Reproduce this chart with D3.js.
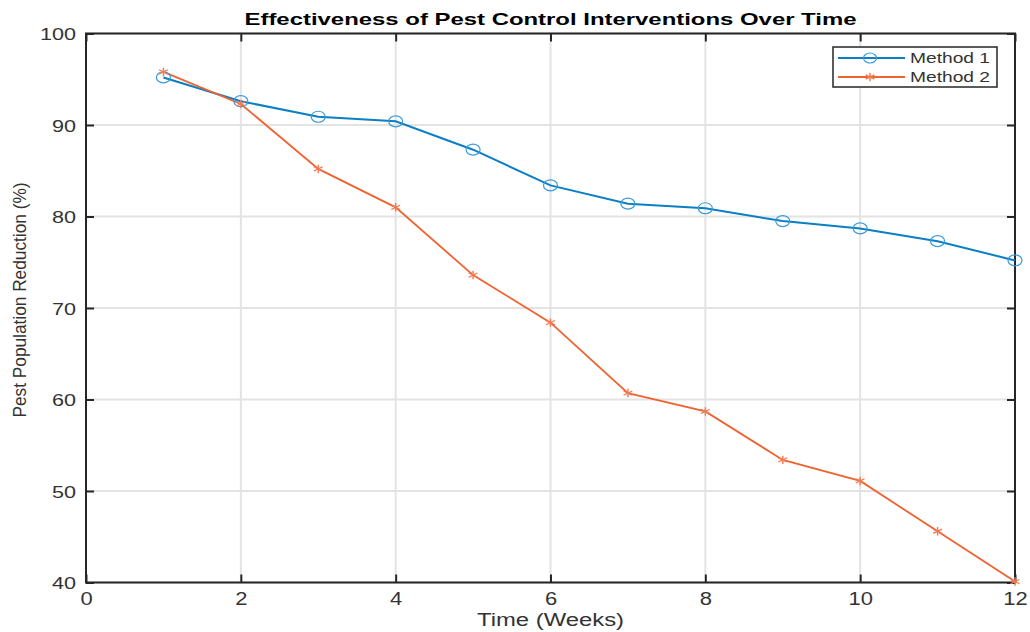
<!DOCTYPE html>
<html>
<head>
<meta charset="utf-8">
<script src="https://cdn.jsdelivr.net/npm/d3@7"></script>
<style>
  body { margin: 0; background: #fff; }
  text { font-family: "Liberation Sans", Arial, sans-serif; fill: #333; }
</style>
</head>
<body>
<svg class="svgChart"></svg>
<script>
// chart data
const weeks = [1, 2, 3, 4, 5, 6, 7, 8, 9, 10, 11, 12];
const method1 = [95.2, 92.6, 90.9, 90.4, 87.3, 83.4, 81.4, 80.9, 79.5, 78.7, 77.3, 75.2];
const method2 = [95.8, 92.3, 85.2, 81.0, 73.6, 68.4, 60.7, 58.7, 53.4, 51.1, 45.6, 40.1];
const seriesNames = ['Method 1', 'Method 2'];
const xTicks = [0, 2, 4, 6, 8, 10, 12];
const yTicks = [40, 50, 60, 70, 80, 90, 100];

const W = 1030, H = 632;
const margin = { top: 33.5, right: 15, bottom: 49.5, left: 86 };
const width = W - margin.left - margin.right;
const height = H - margin.top - margin.bottom;

const colors = ['#0a7fc4', '#f0622f'];
const stretch = 1.22; // the picture is a bit wider than tall

const svg = d3.select('.svgChart')
  .attr('width', W)
  .attr('height', H);

const g = svg.append('g')
  .attr('transform', `translate(${margin.left},${margin.top})`);

const xScale = d3.scaleLinear().domain([0, 12]).range([0, width]);
const yScale = d3.scaleLinear().domain([40, 100]).range([height, 0]);

// widen a text node horizontally
const widen = function(f) {
  const w = this.getComputedTextLength();
  d3.select(this)
    .attr('textLength', w * f)
    .attr('lengthAdjust', 'spacingAndGlyphs');
};

// grid
g.append('g')
  .selectAll('line')
  .data(xTicks)
  .join('line')
    .attr('x1', d => xScale(d)).attr('x2', d => xScale(d))
    .attr('y1', 0).attr('y2', height)
    .attr('stroke', '#e3e3e3').attr('stroke-width', 2);
g.append('g')
  .selectAll('line')
  .data(yTicks)
  .join('line')
    .attr('y1', d => yScale(d)).attr('y2', d => yScale(d))
    .attr('x1', 0).attr('x2', width)
    .attr('stroke', '#e3e3e3').attr('stroke-width', 2);

// axes, ticks point inward
const styleAxis = sel => {
  sel.select('.domain').remove();
  sel.selectAll('.tick line').attr('stroke', '#262626').attr('stroke-width', 2);
  sel.selectAll('text').attr('fill', '#333').style('font-family', '"Liberation Sans", Arial, sans-serif');
};

g.append('g')
  .attr('transform', `translate(0,${height})`)
  .call(d3.axisBottom(xScale).tickValues(xTicks).tickSize(-8).tickPadding(10))
  .call(styleAxis)
  .selectAll('text')
    .attr('font-size', 18)
    .each(function() { widen.call(this, stretch); });

g.append('g')
  .call(d3.axisLeft(yScale).tickValues(yTicks).tickSize(-8).tickPadding(10))
  .call(styleAxis)
  .selectAll('text')
    .attr('font-size', 17)
    .attr('dy', '0.36em')
    .each(function() { widen.call(this, stretch + 0.05); });

g.append('g')
  .call(d3.axisTop(xScale).tickValues(xTicks).tickSize(-8).tickFormat(''))
  .call(styleAxis);

g.append('g')
  .attr('transform', `translate(${width},0)`)
  .call(d3.axisRight(yScale).tickValues(yTicks).tickSize(-8).tickFormat(''))
  .call(styleAxis);

// box
g.append('rect')
  .attr('width', width)
  .attr('height', height)
  .attr('fill', 'none')
  .attr('stroke', '#262626')
  .attr('stroke-width', 2);

// lines
const series = [method1, method2];
const line = d3.line()
  .x((d, i) => xScale(weeks[i]))
  .y(d => yScale(d));

series.forEach((vals, k) => {
  g.append('path')
    .datum(vals)
    .attr('d', line)
    .attr('fill', 'none')
    .attr('stroke', colors[k])
    .attr('stroke-width', k === 0 ? 2 : 1.8);
});

// markers
g.append('g')
  .selectAll('ellipse')
  .data(method1)
  .join('ellipse')
    .attr('cx', (d, i) => xScale(weeks[i]))
    .attr('cy', d => yScale(d))
    .attr('rx', 7).attr('ry', 5.5)
    .attr('fill', 'none')
    .attr('stroke', '#3a9ad6')
    .attr('stroke-width', 1.2);

const star = d3.symbol().type(d3.symbolAsterisk).size(50);
g.append('g')
  .selectAll('path')
  .data(method2)
  .join('path')
    .attr('transform', (d, i) => `translate(${xScale(weeks[i])},${yScale(d)}) scale(1.2,1)`)
    .attr('d', star)
    .attr('fill', 'none')
    .attr('stroke', '#f47a52')
    .attr('stroke-width', 1.2);

// title
svg.append('text')
  .attr('x', margin.left + width / 2)
  .attr('y', 25)
  .attr('text-anchor', 'middle')
  .attr('font-size', 17)
  .attr('font-weight', 'bold')
  .style('fill', '#000')
  .text('Effectiveness of Pest Control Interventions Over Time')
  .attr('textLength', 612)
  .attr('lengthAdjust', 'spacingAndGlyphs');

// axis labels
svg.append('text')
  .attr('x', margin.left + width / 2)
  .attr('y', 626)
  .attr('text-anchor', 'middle')
  .attr('font-size', 18)
  .text('Time (Weeks)')
  .attr('textLength', 147)
  .attr('lengthAdjust', 'spacingAndGlyphs');

svg.append('text')
  .attr('transform', `translate(26,${300}) rotate(-90) scale(1,1.2)`)
  .attr('text-anchor', 'middle')
  .attr('font-size', 16)
  .text('Pest Population Reduction (%)')
  .attr('textLength', 235)
  .attr('lengthAdjust', 'spacingAndGlyphs');

// legend
const legend = svg.append('g')
  .attr('class', 'legend')
  .attr('transform', 'translate(833,47)');

legend.append('rect')
  .attr('width', 164)
  .attr('height', 40)
  .attr('fill', '#fff')
  .attr('stroke', '#262626')
  .attr('stroke-width', 1.5);

const rows = legend.selectAll('.row')
  .data(seriesNames)
  .join('g')
    .attr('class', 'row')
    .attr('transform', (d, i) => `translate(0,${11 + i * 19})`);

rows.append('line')
  .attr('x1', 5).attr('x2', 72)
  .attr('stroke', (d, i) => colors[i])
  .attr('stroke-width', 2);

rows.filter((d, i) => i === 0)
  .append('ellipse')
    .attr('cx', 37).attr('rx', 6.5).attr('ry', 5)
    .attr('fill', 'none')
    .attr('stroke', '#3a9ad6')
    .attr('stroke-width', 1.2);

rows.filter((d, i) => i === 1)
  .append('path')
    .attr('transform', 'translate(37,0) scale(1.2,1)')
    .attr('d', star)
    .attr('fill', 'none')
    .attr('stroke', '#f47a52')
    .attr('stroke-width', 1.2);

rows.append('text')
  .attr('x', 77)
  .attr('dy', '0.36em')
  .attr('font-size', 15)
  .text(d => d)
  .attr('textLength', 80)
  .attr('lengthAdjust', 'spacingAndGlyphs');
</script>
</body>
</html>
